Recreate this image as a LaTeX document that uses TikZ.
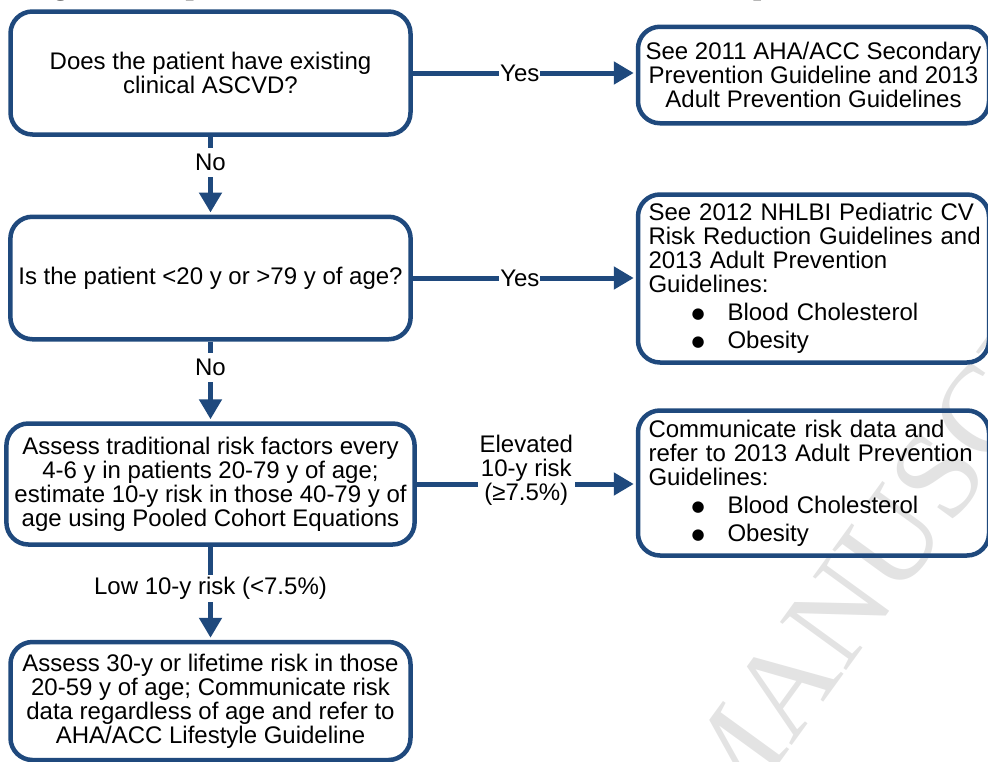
\documentclass[tikz,border=0pt]{standalone}
\usepackage{fontspec}
\setmainfont{Liberation Sans}
\newfontfamily\seriffont{Liberation Serif}
\newfontfamily\dotfont{DejaVu Sans}
\usetikzlibrary{arrows.meta}
\definecolor{flowblue}{RGB}{31,73,125}
\newcommand{\riskdot}{\hspace*{43pt}\makebox[36pt][l]{\raisebox{2pt}{\dotfont\fontsize{15}{15}\selectfont ●}}}

\begin{document}
\begin{tikzpicture}[
                    x = 1pt, y = -1pt, % pixel units, y runs downwards
                    > = {Triangle[length=20pt, width=22pt]}, % arrow head style
                    shorten > = 2pt, % don't push arrow head into the box line
                    semithick % line style
            ]

            \tikzstyle{box}=[
                draw = flowblue,
                line width = 4.5pt,
                rounded corners = 22pt,
                align = center,
                inner xsep = 8pt,
                font = \fontsize{24}{24}\selectfont
            ]
            \tikzstyle{sidebox}=[box, align = left, inner xsep = 10.5pt, text width = 330pt]
            \tikzstyle{lbl}=[fill = white, inner xsep = 1pt, inner ysep = 2pt, font = \fontsize{24}{24}\selectfont]
            \tikzstyle{link}=[draw = flowblue, line width = 5pt, ->]

            \useasboundingbox (0,0) rectangle (988,761);
            \clip (0,0) rectangle (988,761);

            % watermark and the cut-off caption
            \node[text = black!11, font = \seriffont\fontsize{125}{125}\selectfont, rotate = 54, anchor = base east, inner sep = 0pt] (wmark) at (1200,184) {ACCEPTED MANUSCRIPT};
            \node[font = \seriffont\bfseries\fontsize{29.5}{30}\selectfont, anchor = base west, inner sep = 0pt] (caption) at (27,-6) {Figure 1. Implementation of Risk Assessment Work Group Recommendations};

            % left column
            \node[box, minimum width = 400pt, minimum height = 123pt] (Q1) at (210.5,73) {Does the patient have existing\\clinical ASCVD?};
            \node[box, minimum width = 400pt, minimum height = 122.5pt] (Q2) at (210.5,278) {Is the patient <20 y or >79 y of age?};
            \node[box, minimum width = 400pt, minimum height = 121pt] (A3) at (210.5,484) {Assess traditional risk factors every\\4-6 y in patients 20-79 y of age;\\estimate 10-y risk in those 40-79 y of\\age using Pooled Cohort Equations};
            \node[box, minimum width = 400pt, minimum height = 118pt] (A4) at (210.5,701) {Assess 30-y or lifetime risk in those\\20-59 y of age; Communicate risk\\data regardless of age and refer to\\AHA/ACC Lifestyle Guideline};

            % right column
            \node[box, inner xsep = 4pt, minimum width = 351pt, minimum height = 96.5pt] (R1) at (813.5,75) {See 2011 AHA/ACC Secondary\\Prevention Guideline and 2013\\Adult Prevention Guidelines};
            \node[sidebox, minimum height = 168pt] (R2) at (813.5,278.5) {See 2012 NHLBI Pediatric CV\\\mbox{Risk Reduction Guidelines and}\\2013 Adult Prevention\\Guidelines:\\[4pt]
                \riskdot Blood Cholesterol\\[4pt]
                \riskdot Obesity};
            \node[sidebox, minimum height = 145pt] (R3) at (813.5,483) {Communicate risk data and\\refer to 2013 Adult Prevention\\Guidelines:\\[4pt]
                \riskdot Blood Cholesterol\\[4pt]
                \riskdot Obesity};

            \draw[link] (Q1.east) -- (Q1.east -| R1.west) node[lbl, pos = 0.48] (yes1) {Yes};
            \draw[link] (Q2.east) -- (Q2.east -| R2.west) node[lbl, pos = 0.48] (yes2) {Yes};
            \draw[link] (A3.east) -- (A3.east -| R3.west) node[lbl, pos = 0.5, yshift = 14pt, align = center, inner xsep = 2pt] (high) {Elevated\\10-y risk\\(≥7.5\%)};

            \draw[link] (Q1.south) -- (Q2.north) node[lbl, pos = 0.33, inner ysep = 6pt] (no1) {No};
            \draw[link] (Q2.south) -- (A3.north) node[lbl, pos = 0.33, inner ysep = 6pt] (no2) {No};
            \draw[link] (A3.south) -- (A4.north) node[lbl, pos = 0.45] (low) {Low 10-y risk (<7.5\%)};
        \end{tikzpicture}
\end{document}
